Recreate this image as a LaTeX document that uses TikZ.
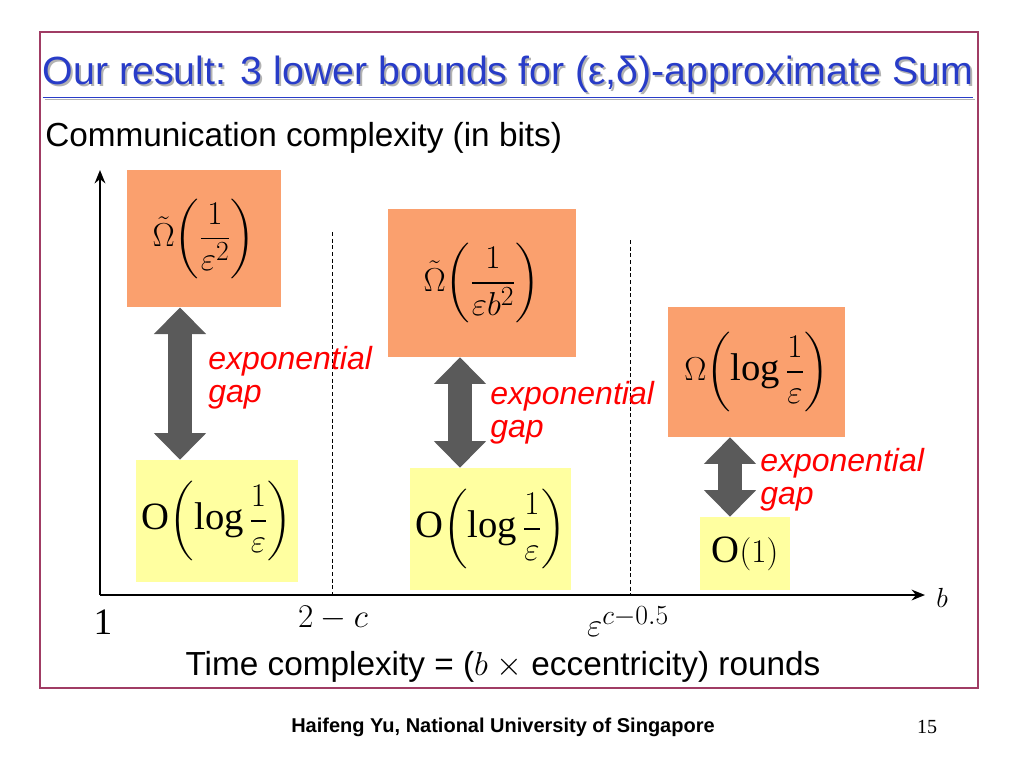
\documentclass[tikz,border=0pt]{standalone}
\usepackage{amsmath}
\usepackage{fontspec}
\setmainfont{Liberation Serif}
\setsansfont{Liberation Sans}
\usetikzlibrary{arrows.meta}
\definecolor{frame}{RGB}{160,60,100}
\definecolor{ttl}{RGB}{40,60,200}
\definecolor{orng}{RGB}{250,160,110}
\definecolor{ylw}{RGB}{255,255,160}
\definecolor{garr}{RGB}{90,90,90}
\tikzset{
 obox/.style={fill=orng,draw=none},
 ybox/.style={fill=ylw,draw=none},
 mth/.style={font=\fontsize{29}{34}\selectfont},
 gaplbl/.style={text=red,font=\sffamily\itshape\fontsize{24}{25}\selectfont,align=left,anchor=north west,inner sep=0},
 darr/.style={line width=18pt,draw=garr,{Triangle[width=38pt,length=20pt]}-{Triangle[width=38pt,length=20pt]}},
 axis/.style={line width=2pt,-{Stealth[length=10pt,width=8pt]}},
 dline/.style={dashed,thin,dash pattern=on 3pt off 2pt}
}
\begin{document}
\begin{tikzpicture}[x=0.75pt,y=-0.75pt]
\useasboundingbox (0,0) rectangle (1024,768);
\fill[white] (0,0) rectangle (1024,768);
\draw[frame,line width=1.5pt] (40,32) rectangle (978,688);
\node[text=gray!60,font=\sffamily\fontsize{29.5}{34}\selectfont] at (510,80) {\underline{Our result: 3 lower bounds for (ε,δ)-approximate Sum}};
\node[text=ttl,font=\sffamily\fontsize{29.5}{34}\selectfont] (title) at (508,78) {\underline{Our result: 3 lower bounds for (ε,δ)-approximate Sum}};
\node[font=\sffamily\fontsize{25}{30}\selectfont,anchor=west,inner sep=0] (comm) at (45,138) {Communication complexity (in bits)};
\coordinate (o) at (100,595);
\coordinate (ytop) at (100,170);
\coordinate (xend) at (925,595);
\draw[axis] (o) -- (ytop);
\draw[axis] (o) -- (xend);
\coordinate (d1a) at (332,232); \coordinate (d1b) at (332,595);
\coordinate (d2a) at (630,240); \coordinate (d2b) at (630,595);
\draw[dline] (d1a) -- (d1b);
\draw[dline] (d2a) -- (d2b);
\node[obox,minimum width=115.5pt,minimum height=103pt] (b1) at (204,238.5) {};
\node[mth,inner sep=0] at (b1) {$\tilde\Omega\!\left(\dfrac{1}{\varepsilon^2}\right)$};
\node[obox,minimum width=141pt,minimum height=111pt] (b2) at (482,283) {};
\node[mth,inner sep=0] at (b2) {$\tilde\Omega\!\left(\dfrac{1}{\varepsilon b^2}\right)$};
\node[obox,minimum width=133pt,minimum height=97.5pt] (b3) at (756.5,372) {};
\node[mth,inner sep=0] at (b3) {$\Omega\!\left(\log\dfrac{1}{\varepsilon}\right)$};
\node[ybox,minimum width=121.5pt,minimum height=91.5pt] (y1) at (217,521) {};
\node[mth,inner sep=0] at (y1) {$\mathrm{O}\!\left(\log\dfrac{1}{\varepsilon}\right)$};
\node[ybox,minimum width=121pt,minimum height=91.5pt] (y2) at (490.5,529) {};
\node[mth,inner sep=0] at (y2) {$\mathrm{O}\!\left(\log\dfrac{1}{\varepsilon}\right)$};
\node[ybox,minimum width=67.5pt,minimum height=54.75pt] (y3) at (745,553.5) {};
\node[mth,inner sep=0] at (y3) {$\mathrm{O}\!\left(1\right)$};
\draw[darr] (b1.south -| 180,0) -- (y1.north -| 180,0);
\draw[darr] (b2.south -| 460,0) -- (y2.north -| 460,0);
\draw[darr] (b3.south -| 730,0) -- (y3.north -| 730,0);
\node[gaplbl] (g1) at (208,346) {exponential\\gap};
\node[gaplbl] (g2) at (490,381) {exponential\\gap};
\node[gaplbl] (g3) at (760,448) {exponential\\gap};
\node[font=\fontsize{28}{32}\selectfont] (l1) at (103,622) {1};
\node[font=\fontsize{28}{32}\selectfont] (l2) at (333,618) {$2-c$};
\node[font=\fontsize{28}{32}\selectfont] (l3) at (628,622) {$\varepsilon^{c-0.5}$};
\node[font=\fontsize{22}{26}\selectfont] (lb) at (942,598) {$b$};
\node[font=\sffamily\fontsize{25}{30}\selectfont] (tc) at (503,667) {Time complexity = (\textrm{$b$ $\times$} eccentricity) rounds};
\node[font=\sffamily\bfseries\fontsize{15}{18}\selectfont] (ft) at (503,727) {Haifeng Yu, National University of Singapore};
\node[font=\fontsize{15}{18}\selectfont] (pg) at (927,727) {15};
\end{tikzpicture}
\end{document}
